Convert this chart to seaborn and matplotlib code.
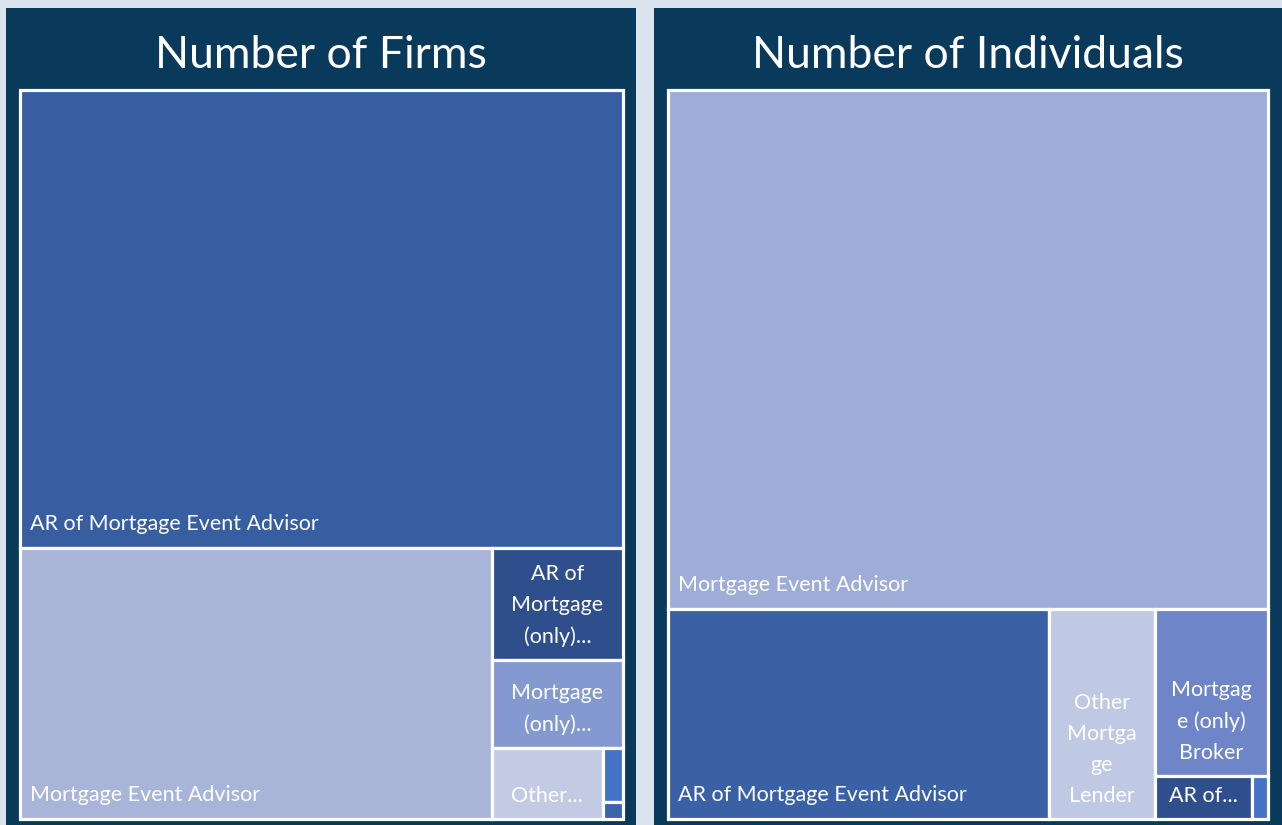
import matplotlib
matplotlib.use("Agg")
import matplotlib.pyplot as plt
from matplotlib.patches import Rectangle
import seaborn as sns

# data
firm_labels = ["AR of Mortgage Event Advisor", "Mortgage Event Advisor",
               "AR of\nMortgage\n(only)...", "Mortgage\n(only)...", "Other...", "", ""]
firm_values = [6283, 2910, 334, 262, 179, 25, 8]
firm_colors = ["#365ea1", "#a8b5d9", "#2e4f8c", "#8499d0", "#c3cbe4", "#4472c4", "#3a63a8"]

indiv_labels = ["Mortgage Event Advisor", "AR of Mortgage Event Advisor",
                "Other\nMortga\nge\nLender", "Mortgag\ne (only)\nBroker", "AR of...", ""]
indiv_values = [7120, 1830, 508, 434, 95, 16]
indiv_colors = ["#9eadd7", "#3a60a6", "#c0c9e3", "#6e86c8", "#2e4f8c", "#4472c4"]

W_PX, H_PX = 1282, 825
PANEL = "#0a3a5b"
BG = "#dbe4ec"


def worst(row, side):
    s = sum(row)
    return max(max(side ** 2 * r / s ** 2, s ** 2 / (side ** 2 * r)) for r in row)


def squarify(values, w, h):
    # squarified treemap, returns (x, y, w, h) with y going down
    total = sum(values)
    areas = [v * w * h / total for v in values]
    x, y = 0.0, 0.0
    rects = []
    while areas:
        side = min(w, h)
        row = [areas[0]]
        i = 1
        while i < len(areas) and worst(row + [areas[i]], side) <= worst(row, side):
            row.append(areas[i])
            i += 1
        areas = areas[i:]
        s = sum(row)
        if w >= h:
            cw = s / h
            yy = y
            for r in row:
                rects.append((x, yy, cw, r / cw))
                yy += r / cw
            x += cw
            w -= cw
        else:
            rh = s / w
            xx = x
            for r in row:
                rects.append((xx, y, r / rh, rh))
                xx += r / rh
            y += rh
            h -= rh
    return rects


def draw_treemap(fig, box, values, labels, colors):
    x0, y0, x1, y1 = box
    w, h = x1 - x0, y1 - y0
    ax = fig.add_axes([x0 / W_PX, 1 - y1 / H_PX, w / W_PX, h / H_PX])
    ax.set_xlim(0, w)
    ax.set_ylim(h, 0)
    ax.axis("off")
    for (rx, ry, rw, rh), lab, col in zip(squarify(values, w, h), labels, colors):
        ax.add_patch(Rectangle((rx, ry), rw, rh, facecolor=col, edgecolor="white",
                               linewidth=2.3, clip_on=False))
        if not lab:
            continue
        if rw > 200:
            ax.text(rx + 10, ry + rh - 14, lab, color="white", fontsize=15.5,
                    ha="left", va="bottom")
        else:
            ax.text(rx + rw / 2, ry + rh - 13, lab, color="white", fontsize=15.5,
                    ha="center", va="bottom", multialignment="center", linespacing=1.68)
    return ax


sns.set_theme(style="white")
plt.rcParams["font.family"] = ["Lato", "DejaVu Sans"]

fig = plt.figure(figsize=(W_PX / 100, H_PX / 100), dpi=100)
fig.patch.set_facecolor(BG)

# background axes in pixel units for the two dark panels
bg = fig.add_axes([0, 0, 1, 1])
bg.set_xlim(0, W_PX)
bg.set_ylim(H_PX, 0)
bg.axis("off")
panels = [(6, 8, 636, 825, "Number of Firms"), (654, 8, 1282, 825, "Number of Individuals")]
for px0, py0, px1, py1, title in panels:
    bg.add_patch(Rectangle((px0, py0), px1 - px0, py1 - py0, facecolor=PANEL, edgecolor="none"))
    bg.text((px0 + px1) / 2, 55, title, color="white", fontsize=32, ha="center", va="center")

draw_treemap(fig, (20, 90, 623, 819), firm_values, firm_labels, firm_colors)
draw_treemap(fig, (668, 90, 1268, 819), indiv_values, indiv_labels, indiv_colors)

fig.savefig("out.png", dpi=100, facecolor=BG)
